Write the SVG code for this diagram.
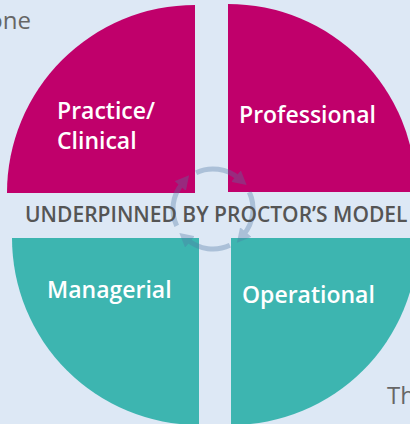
<svg xmlns="http://www.w3.org/2000/svg" width="410" height="424" viewBox="0 0 410 424">
  <style>
    .label { font-family: "Open Sans", "Liberation Sans", sans-serif; font-weight: 600; font-size: 23px; fill: #ffffff; }
    .bg-text { font-family: "Open Sans", "Liberation Sans", sans-serif; font-size: 24px; fill: #666666; }
    .caption { font-family: "Open Sans", "Liberation Sans", sans-serif; font-weight: 600; font-size: 21px; fill: #555555; }
    .magenta { fill: #c0006b; }
    .teal { fill: #3db5b0; }
    .cyc { fill: none; stroke: #4f78a3; stroke-width: 5; }
  </style>
  <defs>
    <marker id="ah" markerUnits="userSpaceOnUse" markerWidth="15" markerHeight="15" refX="3" refY="6.5" orient="auto" viewBox="0 0 13 13">
      <path d="M0,0 L12,6.5 L0,13 z" fill="#4f78a3"/>
    </marker>
  </defs>
  <rect width="410" height="424" fill="#dde8f5"/>
  <text class="bg-text" x="31" y="29" text-anchor="end">one</text>
  <text class="bg-text" x="387" y="404">Th</text>

  <g id="practice-clinical">
    <path class="magenta" d="M195,193 L195,5 A188,188 0 0 0 7,193 Z"/>
    <text class="label" x="57" y="119">Practice/</text>
    <text class="label" x="57" y="149">Clinical</text>
  </g>
  <g id="professional">
    <path class="magenta" d="M228,192 L228,4 A188,188 0 0 1 416,192 Z"/>
    <text class="label" x="239" y="123">Professional</text>
  </g>
  <g id="managerial">
    <path class="teal" d="M199,238 L12,238 A187,187 0 0 0 199,425 Z"/>
    <text class="label" x="47" y="298">Managerial</text>
  </g>
  <g id="operational">
    <path class="teal" d="M231,238 L418,238 A187,187 0 0 1 231,425 Z"/>
    <text class="label" x="242" y="303">Operational</text>
  </g>

  <g id="connectors" opacity="0.35">
    <path class="cyc" marker-end="url(#ah)" d="M196.1,172.7 A40,40 0 0 1 238.7,178.4"/>
    <path class="cyc" marker-end="url(#ah)" d="M249.3,192.1 A40,40 0 0 1 243.6,234.7"/>
    <path class="cyc" marker-end="url(#ah)" d="M229.9,245.3 A40,40 0 0 1 187.3,239.6"/>
    <path class="cyc" marker-end="url(#ah)" d="M176.7,225.9 A40,40 0 0 1 182.4,183.3"/>
  </g>

  <text class="caption" x="25" y="222">UNDERPINNED BY PROCTOR’S MODEL</text>
</svg>
